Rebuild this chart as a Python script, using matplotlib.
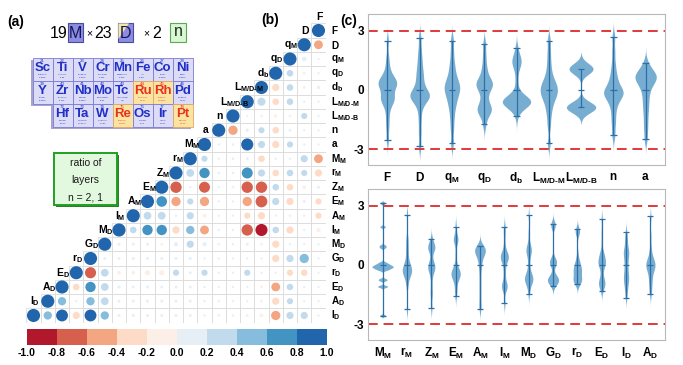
import numpy as np
import matplotlib
matplotlib.use("Agg")
import matplotlib.pyplot as plt
from matplotlib.patches import Rectangle, Circle, Polygon
from matplotlib.colors import ListedColormap, BoundaryNorm
from matplotlib.cm import ScalarMappable

plt.rcParams["font.family"] = ["Liberation Sans", "DejaVu Sans"]
plt.rcParams["mathtext.fontset"] = "custom"
plt.rcParams["mathtext.rm"] = "Liberation Sans:bold"
plt.rcParams["mathtext.bf"] = "Liberation Sans:bold"
plt.rcParams["mathtext.it"] = "Liberation Sans:bold"
plt.rcParams["mathtext.default"] = "bf"
plt.rcParams["axes.unicode_minus"] = False

W, H = 683, 365

# ---------------- data ----------------
feat_labels = [r"$F$", r"$D$", r"$q_M$", r"$q_D$", r"$d_b$", r"$L_{M/D‐M}$", r"$L_{M/D‐B}$",
               r"$n$", r"$a$", r"$M_M$", r"$r_M$", r"$Z_M$", r"$E_M$", r"$A_M$", r"$I_M$",
               r"$M_D$", r"$G_D$", r"$r_D$", r"$E_D$", r"$A_D$", r"$I_D$"]

# lower triangle of the correlation matrix, row i holds r(i, j) for j < i
corr_lower = [
    [],
    [-0.45],
    [0.03, 0.12],
    [0.03, -0.05, 0.25],
    [0.06, -0.05, 0.25, -0.3],
    [0.03, 0.03, 0.25, -0.25, 0.38],
    [0.03, 0.22, -0.05, -0.06, -0.04, -0.03],
    [0.03, 0.03, 0.04, -0.25, 0.22, 0.06, -0.5],
    [0.03, 0.03, 0.22, -0.3, 0.3, 0.85, 0.04, 0.03],
    [-0.45, 0.3, 0.03, 0.03, -0.25, 0.04, 0.04, 0.03, 0.22],
    [-0.3, 0.22, 0.25, -0.25, 0.3, 0.7, 0.04, 0.04, 0.62, 0.35],
    [0.05, -0.08, -0.25, 0.25, -0.75, -0.75, -0.05, 0.03, -0.7, 0.03, -0.75],
    [-0.22, 0.05, -0.3, 0.3, -0.8, -0.5, 0.03, 0.03, -0.5, 0.22, -0.5, 0.65],
    [-0.22, 0.03, -0.05, 0.03, -0.3, -0.22, 0.03, 0.03, -0.08, 0.3, 0.03, 0.35, 0.35],
    [-0.1, 0.03, -0.3, 0.25, -0.85, -0.75, 0.03, 0.03, -0.45, 0.4, -0.3, 0.62, 0.62, 0.25],
    [0.03, 0.03, 0.03, -0.3, 0.03, 0.05, 0.03, 0.03, 0.1, 0.3, 0.1, -0.05, 0.05, 0.05, 0.05],
    [0.03, 0.5, 0.3, -0.3, 0.03, 0.03, 0.03, 0.03, 0.03, 0.05, 0.05, 0.05, 0.05, 0.05, 0.05, 0.05],
    [0.03, -0.25, -0.22, 0.03, 0.03, 0.22, 0.03, 0.03, 0.22, 0.05, 0.22, -0.15, -0.15, -0.08, -0.08, 0.35, -0.72],
    [0.03, 0.03, 0.25, -0.45, -0.05, 0.03, 0.03, 0.03, 0.03, 0.05, 0.05, 0.05, 0.05, 0.05, 0.05, 0.35, 0.62, -0.25],
    [0.03, 0.03, 0.22, -0.3, -0.05, 0.03, 0.03, 0.03, 0.03, 0.05, 0.05, 0.05, 0.05, 0.05, 0.05, 0.35, 0.4, 0.03, 0.4],
    [0.03, 0.3, 0.3, -0.5, -0.08, -0.05, 0.03, -0.05, 0.03, 0.05, 0.05, 0.05, 0.05, 0.05, 0.05, 0.4, 0.82, -0.3, 0.82, 0.4],
]
cbar_ticks = [-1.0, -0.8, -0.6, -0.4, -0.2, 0.0, 0.2, 0.4, 0.6, 0.8, 1.0]
cbar_colors = ["#b2182b", "#d6604d", "#f4a582", "#fddbc7", "#fbefe8",
               "#e6eff6", "#c2dbec", "#86bcdc", "#4393c3", "#2166ac"]

# standardized samples for the violins (panel c, top)
F_vals = [2.4, 1.6, 1.2, 0.9, 0.7, 0.55, 0.45, 0.4, 0.35, 0.3, 0.25, 0.2, 0.15, 0.1, 0.0,
          -0.2, -0.35, -0.45, -0.5, -0.55, -0.6, -0.7, -0.9, -1.2, -1.6, -2.0, -2.6]
D_vals = [2.6, 2.0, 1.6, 1.3, 1.0, 0.8, 0.6, 0.4, 0.2, 0.05, -0.1, -0.2, -0.25, -0.3, -0.35,
          -0.4, -0.45, -0.5, -0.6, -0.8, -1.1, -1.6, -2.2, -2.9]
qM_vals = [2.5, 1.9, 1.4, 1.1, 0.8, 0.6, 0.45, 0.3, 0.2, 0.1, 0.0, -0.1, -0.25, -0.4, -0.6,
           -0.8, -1.1, -1.5, -2.0, -2.7]
qD_vals = [2.3, 1.7, 1.2, 0.9, 0.6, 0.45, 0.35, 0.3, 0.25, 0.15, 0.0, -0.2, -0.5, -0.75, -0.9,
           -1.0, -1.05, -1.1, -1.3, -1.75]
db_vals = [2.15, 1.8, 1.6, 1.5, 1.45, 1.3, 1.0, 0.5, 0.0, -0.2, -0.35, -0.4, -0.45, -0.45, -0.5,
           -0.5, -0.55, -0.55, -0.6, -0.6, -0.65, -0.7, -0.75, -0.8, -0.9, -1.25]
LMDM_vals = [2.6, 2.0, 1.5, 1.1, 0.8, 0.6, 0.45, 0.35, 0.25, 0.15, 0.05, -0.05, -0.15, -0.25,
             -0.4, -0.6, -0.85, -1.2, -1.7, -2.6]
LMDB_vals = [1.1, 1.1, 1.1, 1.1, 1.1, 1.1, 1.1, 1.1, 1.1,
             -0.85, -0.85, -0.85, -0.85, -0.85, -0.85, -0.85, -0.85, -0.85, -0.85, -0.85]
n_vals = [2.6, 1.9, 1.3, 0.9, 0.6, 0.4, 0.2, 0.05, -0.05, -0.15, -0.2, -0.25, -0.3, -0.4, -0.55,
          -0.75, -1.0, -1.4, -1.8, -2.35]
a_vals = [1.35, 1.1, 0.95, 0.85, 0.75, 0.7, 0.65, 0.6, 0.55, 0.45, 0.35, 0.25, 0.1, -0.1, -0.35,
          -0.6, -0.9, -1.2, -1.6, -2.0, -2.5]

# panel c, bottom (element properties)
MM_vals = [3.2, 2.0, 1.05, 0.95, 0.2, 0.12, 0.08, 0.03, 0.0, -0.03, -0.06, -0.1, -0.14, -0.2,
           -0.65, -0.72, -1.0, -1.05, -2.5]
rM_vals = [2.45, 1.3, 1.0, 0.7, 0.45, 0.15, 0.0, -0.1, -0.2, -0.3, -0.35, -0.4, -0.45, -0.5,
           -0.6, -0.7, -0.9, -1.2, -2.35]
ZM_vals = [1.4, 1.2, 1.05, 1.0, 0.95, 0.9, 0.85, 0.4, 0.2, 0.1, 0.0, -0.05, -0.1, -0.2, -0.4,
           -0.8, -1.2, -1.5, -2.1]
EM_vals = [2.0, 1.5, 1.4, 1.3, 1.2, 0.6, 0.1, -0.1, -0.2, -0.3, -0.35, -0.4, -0.45, -0.5, -0.55,
           -0.7, -0.9, -1.2, -1.5]
AM_vals = [1.0, 0.95, 0.9, 0.85, 0.8, 0.75, 0.7, 0.65, 0.6, 0.5, 0.35, 0.2, 0.0, -0.3, -0.7,
           -1.1, -1.5, -1.9, -2.2]
IM_vals = [1.85, 1.5, 1.0, 0.6, 0.5, 0.4, 0.35, 0.3, 0.2, 0.05, 0.15, -0.3, -0.6, -1.0, -1.1,
           -1.15, -1.3, -1.3, -2.05]
MD_vals = [2.5, 1.6, 1.1, 0.9, 0.8, 0.7, 0.65, 0.6, 0.4, 0.1, -0.2, -0.4, -0.5, -0.6, -0.65,
           -0.7, -0.75, -0.8, -0.85, -0.9, -1.0, -1.2, -1.5]
GD_vals = [2.05, 2.0, 1.95, 1.9, 0.3, 0.2, 0.15, 0.1, 0.05, 0.0, -0.1, -0.5, -0.65, -0.7, -0.75,
           -0.75, -0.8, -0.8, -0.85, -0.9, -0.95, -1.0, -1.1]
rD_vals = [1.75, 1.7, 1.6, 1.55, 0.5, 0.2, 0.1, 0.0, -0.1, -0.2, -0.25, -0.3, -0.35, -0.4, -0.5,
           -0.6, -0.7, -0.75, -0.8, -0.85, -0.9, -0.95, -1.0]
ED_vals = [2.25, 1.6, 1.1, 0.6, 0.5, 0.4, 0.3, 0.2, 0.1, 0.05, 0.0, -0.05, -0.1, -0.2, -0.5,
           -0.7, -0.85, -0.95, -1.0, -1.05, -1.1, -1.2, -1.4]
ID_vals = [1.55, 1.3, 1.1, 0.9, 0.7, 0.6, 0.55, 0.45, 0.35, 0.2, 0.05, -0.1, -0.25, -0.4, -0.55,
           -0.65, -0.75, -0.85, -0.95, -1.1, -1.25, -1.45, -1.75]
AD_vals = [2.5, 1.5, 1.0, 0.7, 0.5, 0.35, 0.3, 0.25, 0.15, 0.1, 0.05, 0.0, -0.05, -0.1, -0.15,
           -0.25, -0.35, -0.5, -0.65, -0.8, -1.0, -1.2, -1.45]

top_series = [F_vals, D_vals, qM_vals, qD_vals, db_vals, LMDM_vals, LMDB_vals, n_vals, a_vals]
top_labels = [r"$F$", r"$D$", r"$q_M$", r"$q_D$", r"$d_b$", r"$L_{M/D‐M}$", r"$L_{M/D‐B}$", r"$n$", r"$a$"]
bot_series = [MM_vals, rM_vals, ZM_vals, EM_vals, AM_vals, IM_vals, MD_vals, GD_vals,
              rD_vals, ED_vals, ID_vals, AD_vals]
bot_labels = [r"$M_M$", r"$r_M$", r"$Z_M$", r"$E_M$", r"$A_M$", r"$I_M$", r"$M_D$", r"$G_D$",
              r"$r_D$", r"$E_D$", r"$I_D$", r"$A_D$"]
bot_bw = [0.05, 0.22, 0.22, 0.22, 0.22, 0.22, 0.22, 0.2, 0.2, 0.22, 0.22, 0.22]

# periodic table block in panel (a)
pt_numbers = [["21", "22", "23", "24", "25", "26", "27", "28"],
              ["39", "40", "41", "42", "43", "44", "45", "46"],
              ["72", "73", "74", "75", "76", "77", "78"]]
pt_symbols = [["Sc", "Ti", "V", "Cr", "Mn", "Fe", "Co", "Ni"],
              ["Y", "Zr", "Nb", "Mo", "Tc", "Ru", "Rh", "Pd"],
              ["Hf", "Ta", "W", "Re", "Os", "Ir", "Pt"]]
pt_names = [["Scandium", "Titanium", "Vanadium", "Chromium", "Manganese", "Iron", "Cobalt", "Nickel"],
            ["Yttrium", "Zirconium", "Niobium", "Molybdenum", "Technetium", "Ruthenium", "Rhodium", "Palladium"],
            ["Hafnium", "Tantalum", "Tungsten", "Rhenium", "Osmium", "Iridium", "Platinum"]]
pt_masses = [["44.9559", "47.88", "50.9415", "51.996", "54.938", "55.847", "58.9332", "58.6934"],
             ["88.9059", "91.224", "92.9064", "95.94", "(98)", "101.07", "102.9055", "106.42"],
             ["178.49", "180.9479", "183.85", "186.207", "190.2", "192.22", "195.08"]]
pt_highlight = ["Ru", "Rh", "Re", "Pt"]


def px_axes(fig, l, t, r, b):
    return fig.add_axes([l / W, 1 - b / H, (r - l) / W, (b - t) / H])


def kde(vals, bw, cut=3.0, npts=400):
    v = np.asarray(vals, float)
    v = v - v.mean()
    ys = np.linspace(v.min() - cut * bw, v.max() + cut * bw, npts)
    dens = np.exp(-0.5 * ((ys[:, None] - v[None, :]) / bw) ** 2).sum(axis=1)
    dens /= len(v) * bw * np.sqrt(2 * np.pi)
    return v, ys, dens


def draw_violins(ax, series, labels, bws, scale, cap):
    body, line = "#1f77b4", "#2a6fa8"
    for pos, (vals, bw) in enumerate(zip(series, bws)):
        v, ys, d = kde(vals, bw)
        hw = scale * d
        ax.fill_betweenx(ys, pos - hw, pos + hw, color=body, alpha=0.6, lw=0)
        ax.vlines(pos, v.min(), v.max(), color=line, lw=0.9)
        ax.hlines([v.min(), v.max(), v.mean()], pos - cap, pos + cap, color=line, lw=0.9)
    ax.axhline(3, color="#e03a3a", ls=(0, (5, 3)), lw=1.4)
    ax.axhline(-3, color="#e03a3a", ls=(0, (5, 3)), lw=1.4)
    ax.set_xlim(-0.6, len(series) - 0.4)
    ax.set_ylim(-3.8, 3.85)
    ax.set_yticks([-3, 0, 3])
    ax.set_yticklabels(["-3", "0", "3"], fontweight="bold", fontsize=8.5)
    ax.set_xticks(range(len(series)))
    ax.set_xticklabels(labels, fontsize=8.5)
    ax.tick_params(axis="x", length=0, pad=4)
    ax.tick_params(axis="y", length=0, pad=3)
    for s in ax.spines.values():
        s.set_color("#b8b8b8")
        s.set_linewidth(0.8)


fig = plt.figure(figsize=(W / 100, H / 100), dpi=100)

# ---------------- overlay for panel (a) and panel letters ----------------
ov = fig.add_axes([0, 0, 1, 1])
ov.set_xlim(0, W)
ov.set_ylim(H, 0)
ov.axis("off")

for txt, x, y in [("(a)", 16, 22), ("(b)", 270, 20), ("(c)", 349, 21)]:
    ov.text(x, y, txt, fontsize=10, fontweight="bold", ha="center", va="center")

# formula 19 M x 23 D x 2 n
purple, purple_ec = "#8c8ce0", "#4a4aa0"
ov.text(59, 33, "19", fontsize=11.5, ha="center", va="center")
ov.add_patch(Rectangle((68, 23), 15, 19, fc=purple, ec=purple_ec, lw=0.8))
ov.text(75.5, 33, "M", fontsize=11.5, ha="center", va="center", color="#15155a")
ov.text(89, 33.5, "×", fontsize=7.5, ha="center", va="center")
ov.text(103, 33, "23", fontsize=11.5, ha="center", va="center")
ov.add_patch(Rectangle((118, 23), 15, 19, fc=purple, ec=purple_ec, lw=0.8))
ov.add_patch(Polygon([(118.4, 23.4), (129, 23.4), (118.4, 39)], closed=True, fc="#f4e7a8", ec="none"))
ov.text(125.5, 33, "D", fontsize=11.5, ha="center", va="center", color="#15155a")
ov.text(146, 33.5, "×", fontsize=7.5, ha="center", va="center")
ov.text(157, 33, "2", fontsize=11.5, ha="center", va="center")
ov.add_patch(Rectangle((170, 23), 16, 19, fc="#d8f7d2", ec="#5aa85a", lw=0.8))
ov.text(178, 32, "n", fontsize=11.5, ha="center", va="center", color="#1b2f1b")

# periodic table block
cw, ch, px0, py0 = 20, 23, 32.5, 58
ov.add_patch(Polygon([(px0 - 2, py0 + 2), (px0 - 2, py0 + 2 * ch + 2), (px0 + cw - 2, py0 + 2 * ch + 2),
                      (px0 + cw - 2, py0 + 3 * ch + 2), (px0 + 8 * cw - 2, py0 + 3 * ch + 2),
                      (px0 + 8 * cw - 2, py0 + 2)], closed=True, fc="#a6a6cc", ec="none"))
for r in range(3):
    c0 = 1 if r == 2 else 0
    for k, sym in enumerate(pt_symbols[r]):
        x = px0 + (c0 + k) * cw
        y = py0 + r * ch
        hot = sym in pt_highlight
        ov.add_patch(Rectangle((x, y), cw, ch, fc="#fbe3a2" if hot else "#dcdcf6",
                               ec="#e3a765" if hot else "#7b7bd8", lw=0.6))
        col = "#e8321e" if hot else "#1f2fc8"
        ov.text(x + cw / 2, y + 3.2, pt_numbers[r][k], fontsize=3.2, color=col, ha="center", va="center")
        ov.text(x + cw / 2, y + 10.3, sym, fontsize=9.5, fontweight="bold", color=col,
                ha="center", va="center")
        ov.text(x + cw / 2, y + 16.8, pt_names[r][k], fontsize=1.5, color=col, ha="center", va="center")
        ov.text(x + cw / 2, y + 19.5, pt_masses[r][k], fontsize=1.5, color=col, ha="center", va="center")

# ratio of layers box
ov.add_patch(Rectangle((56, 155), 63, 52, fc="#2d7d2d", ec="none"))
ov.add_patch(Rectangle((54, 153), 63, 52, fc="#e2f8df", ec="#21a021", lw=1.4))
for txt, y in [("ratio of", 163), ("layers", 180), ("n = 2, 1", 197)]:
    ov.text(85.5, y, txt, fontsize=7.5, ha="center", va="center", color="#1a1a1a")

# ---------------- panel (b): correlation circles ----------------
cmap = ListedColormap(cbar_colors)
norm = BoundaryNorm(cbar_ticks, cmap.N)
nf = len(feat_labels)
ax_b = px_axes(fig, 26.4, 7.7, 325.6, 322.6)
ax_b.set_xlim(-0.5, nf - 0.5)
ax_b.set_ylim(nf - 0.5, -1.6)
ax_b.axis("off")
for i in range(nf):
    row = corr_lower[i] + [1.0]
    for j, r in enumerate(row):
        xc = nf - 1 - j
        ax_b.add_patch(Rectangle((xc - 0.5, i - 0.5), 1, 1, fc="none", ec="#dddddd", lw=0.6, zorder=1))
        ax_b.add_patch(Circle((xc, i), 0.46 * np.sqrt(abs(r)), fc=cmap(norm(min(r, 0.999))),
                              ec="none", zorder=2))
    ax_b.text(nf - 0.5 + 0.38, i, feat_labels[i], ha="left", va="center", fontsize=7.2, clip_on=False)
    ax_b.text(nf - 1 - i + 0.1, i - 1, feat_labels[i], ha="center", va="center", fontsize=7.5,
              clip_on=False, zorder=3)

cax = px_axes(fig, 26.7, 329, 326.7, 345)
cb = fig.colorbar(ScalarMappable(norm=norm, cmap=cmap), cax=cax, orientation="horizontal",
                  ticks=cbar_ticks)
cb.outline.set_visible(False)
cax.tick_params(length=0, pad=2)
cax.set_xticklabels([f"{t:.1f}" for t in cbar_ticks], fontsize=7.5, fontweight="bold")

# ---------------- panel (c): violins ----------------
ax_t = px_axes(fig, 368, 14, 665, 165)
draw_violins(ax_t, top_series, top_labels, [0.28] * len(top_series), scale=0.58, cap=0.1)
ax_d = px_axes(fig, 368, 189, 665, 340)
draw_violins(ax_d, bot_series, bot_labels, bot_bw, scale=0.28, cap=0.12)

fig.savefig("out.png", dpi=100)
